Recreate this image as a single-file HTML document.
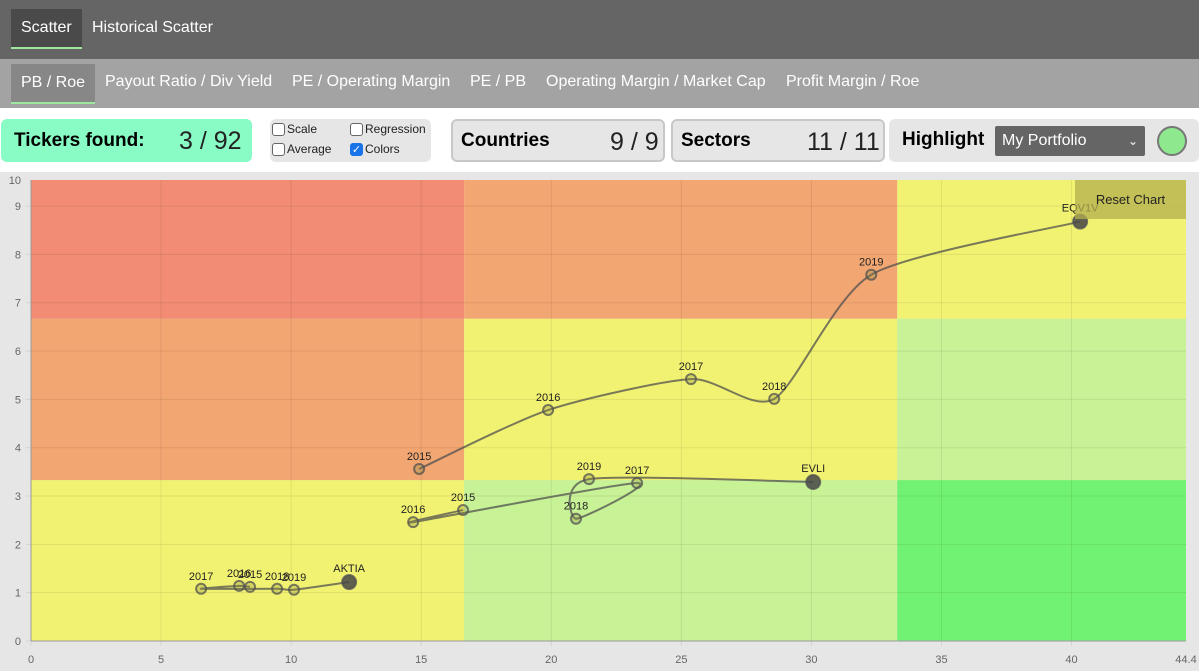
<!DOCTYPE html>
<html><head><meta charset="utf-8"><style>
*{box-sizing:border-box}
body{margin:0;width:1199px;height:671px;overflow:hidden;background:#fff;font-family:"Liberation Sans",Arial,sans-serif;position:relative}
.bar1{position:absolute;left:0;top:0;width:1199px;height:59px;background:#656565}
.bar2{position:absolute;left:0;top:59px;width:1199px;height:49px;background:#a3a3a3}
.tab{position:absolute;color:#fff;font-size:16px;line-height:38px;padding:0 10px}
.box{position:absolute;border-radius:6px;background:#e6e6e6}
.big{font-weight:bold;font-size:19px;position:absolute}
.num{font-size:25px;position:absolute;color:#222}
.cb{position:absolute;font-size:12px;color:#222;display:flex;align-items:center}
.cb i{display:inline-block;width:13px;height:13px;border:1px solid #666;border-radius:3px;background:#fff;margin-right:2px}
</style></head><body>
<div class="bar1"></div>
<div class="tab" style="left:11px;top:9px;background:#4a4a4a;border-bottom:2px solid #9ee89e">Scatter</div>
<div class="tab" style="left:82px;top:9px">Historical Scatter</div>
<div class="bar2"></div>
<div class="tab" style="left:11px;top:64px;background:#878787;border-bottom:2px solid #9ee89e">PB / Roe</div>
<div class="tab" style="left:95px;top:63px">Payout Ratio / Div Yield</div>
<div class="tab" style="left:282px;top:63px">PE / Operating Margin</div>
<div class="tab" style="left:460px;top:63px">PE / PB</div>
<div class="tab" style="left:536px;top:63px">Operating Margin / Market Cap</div>
<div class="tab" style="left:776px;top:63px">Profit Margin / Roe</div>

<div class="box" style="left:1px;top:119px;width:251px;height:43px;background:#88fcc4">
 <span class="big" style="left:13px;top:11px">Tickers found:</span><span class="num" style="left:178px;top:8px">3 / 92</span></div>
<div class="box" style="left:270px;top:119px;width:161px;height:43px"></div>
<div class="cb" style="left:272px;top:122px"><i></i>Scale</div>
<div class="cb" style="left:350px;top:122px"><i></i>Regression</div>
<div class="cb" style="left:272px;top:142px"><i></i>Average</div>
<div class="cb" style="left:350px;top:142px"><i style="background:#1a73e8;border-color:#1a73e8;color:#fff;font-size:11px;font-style:normal;text-align:center;line-height:12px">✓</i>Colors</div>
<div class="box" style="left:451px;top:119px;width:214px;height:43px;border:2px solid #c8c8c8"><span class="big" style="left:8px;top:9px">Countries</span><span class="num" style="left:157px;top:7px">9 / 9</span></div>
<div class="box" style="left:671px;top:119px;width:214px;height:43px;border:2px solid #c8c8c8"><span class="big" style="left:8px;top:9px">Sectors</span><span class="num" style="left:134px;top:7px">11 / 11</span></div>
<div class="box" style="left:889px;top:119px;width:310px;height:43px"><span class="big" style="left:13px;top:10px">Highlight</span></div>
<div style="position:absolute;left:995px;top:126px;width:150px;height:30px;background:#656565;border-radius:2px;color:#fff;font-size:16px;line-height:30px;padding-left:7px">My Portfolio<span style="position:absolute;right:7px;font-size:12px">⌄</span></div>
<div style="position:absolute;left:1157px;top:126px;width:30px;height:30px;border-radius:50%;background:#8ee88e;border:2px solid #777"></div>

<div style="position:absolute;left:0;top:172px;width:1199px;height:499px;background:#e6e6e6"></div>
<svg id="chart" width="1199" height="671" style="position:absolute;left:0;top:0" font-family="Liberation Sans, Arial, sans-serif"></svg>
<div style="position:absolute;left:1075px;top:180px;width:111px;height:39px;background:rgba(180,175,80,0.75);font-size:13px;line-height:40px;text-align:center;color:#222">Reset Chart</div>
<script>
const xTicks=[0,5,10,15,20,25,30,35,40];
const yTicks=[0,1,2,3,4,5,6,7,8,9];
const zoneX=[0,16.65,33.3,44.4];
const zoneY=[0,3.33,6.67,9.54];
const zoneColors=[["#f2f272","#c8f296","#72f272"],["#f2a672","#f2f272","#c8f296"],["#f28c74","#f2a672","#f2f272"]];
const eqvX=[14.92,19.88,25.37,28.57,32.3,40.33];
const eqvY=[3.56,4.78,5.42,5.01,7.58,8.68];
const eqvLabels=["2015","2016","2017","2018","2019","EQV1V"];
const evliX=[16.61,14.69,23.3,20.95,21.45,30.07];
const evliY=[2.71,2.46,3.27,2.53,3.35,3.29];
const evliLabels=["2015","2016","2017","2018","2019","EVLI"];
const aktX=[8.42,8.0,6.54,9.46,10.11,12.23];
const aktY=[1.12,1.14,1.08,1.08,1.06,1.22];
const aktLabels=["2015","2016","2017","2018","2019","AKTIA"];
const X0=31,X1=1186,Y0=641,Y1=180,XMAX=44.4,YMAX=9.54;
const sx=v=>X0+v/XMAX*(X1-X0), sy=v=>Y0-v/YMAX*(Y0-Y1);
const svg=document.getElementById('chart'),NS="http://www.w3.org/2000/svg";
function mk(t,a,p){const e=document.createElementNS(NS,t);for(const k in a)e.setAttribute(k,a[k]);(p||svg).appendChild(e);return e;}
for(let j=0;j<3;j++)for(let i=0;i<3;i++){
 const r=mk('rect',{x:sx(zoneX[i]),y:sy(zoneY[j+1]),width:sx(zoneX[i+1])-sx(zoneX[i]),height:sy(zoneY[j])-sy(zoneY[j+1]),fill:zoneColors[j][i]});
 
 
}
xTicks.forEach(t=>{const l=mk('line',{x1:sx(t),x2:sx(t),y1:Y1,y2:Y0+5,stroke:"rgba(0,0,0,0.08)"});
 
 const tx=mk('text',{x:sx(t),y:Y0+22,'text-anchor':'middle','font-size':11,fill:'#666'});tx.textContent=t;
 });
const lx=mk('text',{x:X1,y:Y0+22,'text-anchor':'middle','font-size':11,fill:'#666'});lx.textContent="44.4";

yTicks.forEach(t=>{const l=mk('line',{x1:X0-5,x2:X1,y1:sy(t),y2:sy(t),stroke:"rgba(0,0,0,0.08)"});
 
 const tx=mk('text',{x:X0-10,y:sy(t)+4,'text-anchor':'end','font-size':11,fill:'#666'});tx.textContent=t;
 });
const ly=mk('text',{x:X0-10,y:Y1+4,'text-anchor':'end','font-size':11,fill:'#666'});ly.textContent="10";

mk('line',{x1:X0,x2:X0,y1:Y1,y2:Y0,stroke:'#999'});mk('line',{x1:X0,x2:X1,y1:Y0,y2:Y0,stroke:'#999'});
function series(xs,ys,labs,name){
 const P=xs.map((x,i)=>[sx(x),sy(ys[i])]);
 let d="M"+P[0][0]+","+P[0][1];
 for(let i=0;i<P.length-1;i++){const p0=P[i-1]||P[i],p1=P[i],p2=P[i+1],p3=P[i+2]||p2,k=0.12;
  d+=` C${p1[0]+(p2[0]-p0[0])*k},${p1[1]+(p2[1]-p0[1])*k} ${p2[0]-(p3[0]-p1[0])*k},${p2[1]-(p3[1]-p1[1])*k} ${p2[0]},${p2[1]}`;}
 const pa=mk('path',{d:d,fill:'none',stroke:'rgba(80,80,80,0.75)','stroke-width':2});
 
 P.forEach((p,i)=>{const last=i==P.length-1;
  const c=mk('circle',{cx:p[0],cy:p[1],r:last?7:5,fill:last?'rgba(70,70,70,0.85)':'rgba(140,140,60,0.3)',stroke:'rgba(80,80,80,0.75)','stroke-width':2});
  
  const t=mk('text',{x:p[0],y:p[1]-(last?10:9),'text-anchor':'middle','font-size':11,fill:'#222'});t.textContent=labs[i];
  });
}
series(eqvX,eqvY,eqvLabels,'eqv1v');
series(evliX,evliY,evliLabels,'evli');
series(aktX,aktY,aktLabels,'aktia');
</script>
</body></html>
